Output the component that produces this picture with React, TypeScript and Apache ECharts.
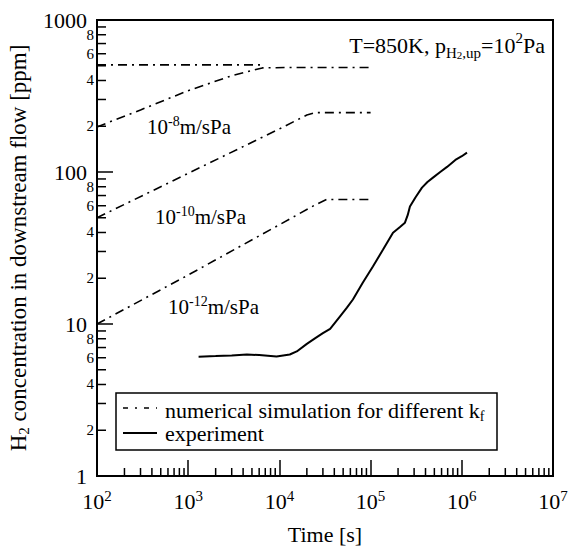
import React, { useEffect, useRef } from 'react';
import * as echarts from 'echarts';

const FONT = 'Liberation Serif';

// Time [s], H2 concentration [ppm]
const simFlat = [[100, 507], [6500, 507]];
const sim8 = [[100, 198], [300, 256], [1000, 343], [3000, 430], [6500, 484], [12000, 487], [100000, 487]];
const sim10 = [[100, 50], [1000, 98], [10000, 192], [20000, 237], [25000, 246], [100000, 246]];
const sim12 = [[100, 10], [1000, 21], [10000, 45], [25000, 61], [33000, 66], [100000, 66]];
const experiment = [
  [1300, 6.1], [2000, 6.15], [3000, 6.2], [4400, 6.3], [6000, 6.25], [9300, 6.12], [13000, 6.3],
  [15500, 6.6], [20000, 7.4], [25000, 8.1], [30000, 8.7], [36000, 9.3], [46000, 11.2], [55000, 12.8],
  [64000, 14.5], [82000, 18.7], [106000, 23.9], [137000, 30.9], [176000, 39.9], [210000, 43.5],
  [238000, 46.4], [255000, 52], [270000, 59.2], [310000, 68], [366000, 78.9], [420000, 86],
  [483000, 91.8], [580000, 100], [689000, 108], [850000, 120], [1000000, 127], [1140000, 134],
];

const X_MIN = 100, X_MAX = 1e7, Y_MIN = 1, Y_MAX = 1000;
const yMinorTicks: number[] = [];
const xMinorTicks: number[] = [];
for (let d = 1; d < 1000; d *= 10) for (let k = 2; k <= 9; k++) yMinorTicks.push(k * d);
for (let d = 100; d < 1e7; d *= 10) for (let k = 2; k <= 9; k++) xMinorTicks.push(k * d);
const yMinorLabelDigits = [2, 4, 6, 8];

const curveLabels = [
  { exp: '-8', x: 147, y: 127 },
  { exp: '-10', x: 155, y: 217 },
  { exp: '-12', x: 168, y: 307 },
];

const legendItems = [
  { text: '{a|numerical simulation for different k}{s|f}', dashed: true },
  { text: '{a|experiment}', dashed: false },
];

const dash = [9, 5, 2, 5];

export default function App() {
  const ref = useRef<HTMLDivElement>(null);
  useEffect(() => {
    const chart = echarts.init(ref.current!, null, { renderer: 'svg', width: 568, height: 546 });
    const simStyle = { color: '#000', width: 1.6, type: dash };
    const simSeries = [simFlat, sim8, sim10, sim12].map((d) => ({
      name: 'sim', type: 'line', data: d, symbol: 'none', lineStyle: simStyle, itemStyle: { color: '#000' }, z: 3,
    }));
    const base = { fontSize: 22, fontFamily: FONT, color: '#000', lineHeight: 26, verticalAlign: 'middle' };
    const sup = { fontSize: 15, fontFamily: FONT, color: '#000', verticalAlign: 'top' };
    const sub = { fontSize: 15, fontFamily: FONT, color: '#000', verticalAlign: 'bottom' };
    const legendGraphics: any[] = [
      { type: 'rect', shape: { x: 116, y: 393, width: 381, height: 57 }, style: { fill: '#fff', stroke: '#000', lineWidth: 1.5 }, z: 20 },
    ];
    legendItems.forEach((it, i) => {
      const y = 408 + i * 25;
      legendGraphics.push({
        type: 'line', shape: { x1: 123, y1: y, x2: 157, y2: y }, z: 21,
        style: { stroke: '#000', lineWidth: it.dashed ? 1.6 : 2, lineDash: it.dashed ? [5, 7, 2, 7] : null },
      });
      legendGraphics.push({
        type: 'text', x: 165, y: y - 11, z: 21,
        style: { text: it.text, rich: { a: { ...base, lineHeight: 22 }, s: { ...sub, fontSize: 14, lineHeight: 26 } } },
      });
    });
    chart.setOption({
      animation: false,
      textStyle: { fontFamily: FONT, color: '#000' },
      grid: {
        left: 97, top: 20, right: 15, bottom: 70, show: true, borderColor: '#000', borderWidth: 2,
        containLabel: false, outerBoundsMode: 'none',
      },
      xAxis: {
        type: 'log', logBase: 10, min: X_MIN, max: X_MAX, splitNumber: 5,
        name: 'Time [s]', nameLocation: 'middle', nameGap: 47,
        nameTextStyle: { fontSize: 22, fontFamily: FONT, color: '#000' },
        axisLine: { lineStyle: { color: '#000', width: 2 } },
        axisTick: { inside: true, length: 16, lineStyle: { color: '#000', width: 1.5 } },
        splitLine: { show: false },
        axisLabel: {
          margin: 12,
          formatter: (v: number) => `{b|10}{s|${Math.round(Math.log10(v))}}`,
          rich: { b: { ...base, fontSize: 22 }, s: { ...sup, fontSize: 15 } },
        },
      },
      yAxis: {
        type: 'log', logBase: 10, min: Y_MIN, max: Y_MAX, splitNumber: 3,
        name: '{a|H}{s|2}{a| concentration in downstream flow [ppm]}', nameLocation: 'middle', nameGap: 66,
        nameTextStyle: {
          fontFamily: FONT,
          rich: { a: { ...base, fontSize: 23 }, s: { ...sub, fontSize: 15 } },
        },
        axisLine: { lineStyle: { color: '#000', width: 2 } },
        axisTick: { inside: true, length: 16, lineStyle: { color: '#000', width: 1.5 } },
        splitLine: { show: false },
        axisLabel: { margin: 10, fontSize: 22, fontFamily: FONT, color: '#000', formatter: (v: number) => String(Math.round(v)) },
      },
      graphic: [
        {
          type: 'text', right: 23, top: 30, z: 20,
          style: {
            text: '{a|T=850K, p}{s|H}{ss|2}{s|,up}{a|=10}{p|2}{a|Pa}',
            fontFamily: FONT,
            rich: {
              a: { ...base },
              s: { ...sub, fontSize: 15, lineHeight: 30 },
              ss: { ...sub, fontSize: 11, lineHeight: 30 },
              p: { ...sup, fontSize: 15 },
            },
          },
        },
        ...curveLabels.map((c) => ({
          type: 'text', x: c.x, y: c.y - 13, z: 20,
          style: {
            text: `{a|10}{p|${c.exp}}{a|m/sPa}`,
            fontFamily: FONT,
            rich: { a: { ...base, fontSize: 21 }, p: { ...sup, fontSize: 14 } },
          },
        })),
        ...legendGraphics,
      ],
      series: [
        ...simSeries,
        {
          name: 'exp', type: 'line', data: experiment, symbol: 'none', smooth: false,
          lineStyle: { color: '#000', width: 2 }, itemStyle: { color: '#000' }, z: 4,
        },
        {
          type: 'custom', name: 'yminor', coordinateSystem: 'cartesian2d', silent: true, clip: false,
          data: yMinorTicks.map((v) => [X_MIN, v]), encode: { x: 0, y: 1 }, z: 10,
          renderItem: (_p: any, api: any) => {
            const v = api.value(1);
            const p = api.coord([api.value(0), v]);
            const lead = Math.round(v / Math.pow(10, Math.floor(Math.log10(v) + 1e-9)));
            const children: any[] = [
              { type: 'line', shape: { x1: p[0], y1: p[1], x2: p[0] + 9, y2: p[1] }, style: { stroke: '#000', lineWidth: 1.5 } },
            ];
            if (yMinorLabelDigits.includes(lead)) {
              children.push({
                type: 'text',
                style: { text: String(lead), x: p[0] - 3, y: p[1], align: 'right', verticalAlign: 'middle', fontSize: 15, fontFamily: FONT, fill: '#000' },
              });
            }
            return { type: 'group', children };
          },
        },
        {
          type: 'custom', name: 'xminor', coordinateSystem: 'cartesian2d', silent: true, clip: false,
          data: xMinorTicks.map((v) => [v, Y_MIN]), encode: { x: 0, y: 1 }, z: 10,
          renderItem: (_p: any, api: any) => {
            const p = api.coord([api.value(0), api.value(1)]);
            return { type: 'line', shape: { x1: p[0], y1: p[1], x2: p[0], y2: p[1] - 8 }, style: { stroke: '#000', lineWidth: 1.5 } };
          },
        },
      ],
    });
    return () => chart.dispose();
  }, []);
  return <div ref={ref} style={{ position: 'fixed', left: 0, top: 0, width: 568, height: 546, background: '#fff' }} />;
}
